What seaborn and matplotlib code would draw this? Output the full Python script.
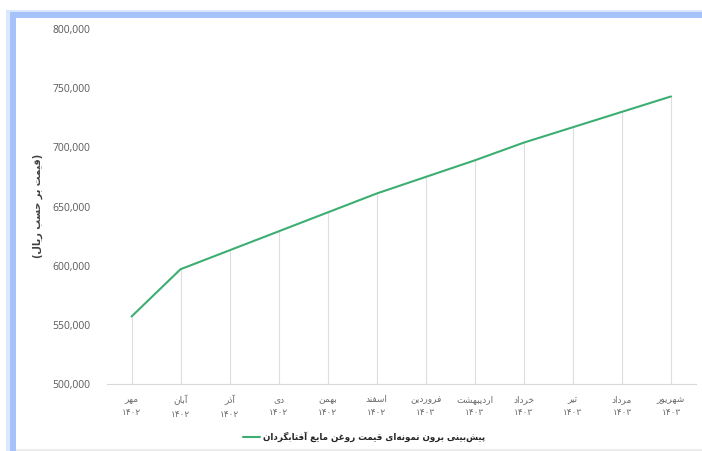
import matplotlib
matplotlib.use("Agg")
import matplotlib.pyplot as plt
from matplotlib.patches import Rectangle
from matplotlib.lines import Line2D
from matplotlib.ticker import FuncFormatter
import seaborn as sns
import pandas as pd

# ---------------- data ----------------
months = ["مهر", "آبان", "آذر", "دی", "بهمن", "اسفند",
          "فروردین", "اردیبهشت", "خرداد", "تیر", "مرداد", "شهریور"]
years = ["۱۴۰۲", "۱۴۰۲", "۱۴۰۲", "۱۴۰۲", "۱۴۰۲", "۱۴۰۲",
         "۱۴۰۳", "۱۴۰۳", "۱۴۰۳", "۱۴۰۳", "۱۴۰۳", "۱۴۰۳"]
prices = [557000, 597000, 613000, 629000, 645000, 661000,
          675000, 689000, 704000, 717000, 730000, 743000]
y_ticks = [500000, 550000, 600000, 650000, 700000, 750000, 800000]
series_name = "پیش‌بینی برون نمونه‌ای قیمت روغن مایع آفتابگردان"
y_title = "(قیمت بر حسب ریال)"

# ------------- minimal Persian shaping (presentation forms) -------------
FORMS = {
    'ا': ('\uFE8D', '\uFE8E', None, None),
    'آ': ('\uFE81', '\uFE82', None, None),
    'ب': ('\uFE8F', '\uFE90', '\uFE91', '\uFE92'),
    'پ': ('\uFB56', '\uFB57', '\uFB58', '\uFB59'),
    'ت': ('\uFE95', '\uFE96', '\uFE97', '\uFE98'),
    'ث': ('\uFE99', '\uFE9A', '\uFE9B', '\uFE9C'),
    'ج': ('\uFE9D', '\uFE9E', '\uFE9F', '\uFEA0'),
    'چ': ('\uFB7A', '\uFB7B', '\uFB7C', '\uFB7D'),
    'ح': ('\uFEA1', '\uFEA2', '\uFEA3', '\uFEA4'),
    'خ': ('\uFEA5', '\uFEA6', '\uFEA7', '\uFEA8'),
    'د': ('\uFEA9', '\uFEAA', None, None),
    'ذ': ('\uFEAB', '\uFEAC', None, None),
    'ر': ('\uFEAD', '\uFEAE', None, None),
    'ز': ('\uFEAF', '\uFEB0', None, None),
    'ژ': ('\uFB8A', '\uFB8B', None, None),
    'س': ('\uFEB1', '\uFEB2', '\uFEB3', '\uFEB4'),
    'ش': ('\uFEB5', '\uFEB6', '\uFEB7', '\uFEB8'),
    'ص': ('\uFEB9', '\uFEBA', '\uFEBB', '\uFEBC'),
    'ض': ('\uFEBD', '\uFEBE', '\uFEBF', '\uFEC0'),
    'ط': ('\uFEC1', '\uFEC2', '\uFEC3', '\uFEC4'),
    'ظ': ('\uFEC5', '\uFEC6', '\uFEC7', '\uFEC8'),
    'ع': ('\uFEC9', '\uFECA', '\uFECB', '\uFECC'),
    'غ': ('\uFECD', '\uFECE', '\uFECF', '\uFED0'),
    'ف': ('\uFED1', '\uFED2', '\uFED3', '\uFED4'),
    'ق': ('\uFED5', '\uFED6', '\uFED7', '\uFED8'),
    'ک': ('\uFB8E', '\uFB8F', '\uFB90', '\uFB91'),
    'گ': ('\uFB92', '\uFB93', '\uFB94', '\uFB95'),
    'ل': ('\uFEDD', '\uFEDE', '\uFEDF', '\uFEE0'),
    'م': ('\uFEE1', '\uFEE2', '\uFEE3', '\uFEE4'),
    'ن': ('\uFEE5', '\uFEE6', '\uFEE7', '\uFEE8'),
    'و': ('\uFEED', '\uFEEE', None, None),
    'ه': ('\uFEE9', '\uFEEA', '\uFEEB', '\uFEEC'),
    'ی': ('\uFBFC', '\uFBFD', '\uFBFE', '\uFBFF'),
    'ي': ('\uFEF1', '\uFEF2', '\uFEF3', '\uFEF4'),
}


def shape(text):
    chars = list(text)
    out = []
    for i, c in enumerate(chars):
        if c not in FORMS:
            if c != '\u200c':
                out.append(c)
            continue
        prev = chars[i - 1] if i > 0 else None
        nxt = chars[i + 1] if i + 1 < len(chars) else None
        jp = prev in FORMS and FORMS[prev][2] is not None
        jn = nxt in FORMS and FORMS[c][2] is not None
        iso, fin, ini, med = FORMS[c]
        if jp and jn:
            g = med
        elif jp:
            g = fin
        elif jn:
            g = ini
        else:
            g = iso
        out.append(g)
    s = ''.join(out)[::-1]
    return s.translate(str.maketrans('()', ')('))


# ---------------- plot ----------------
sns.set_theme(style="white")
plt.rcParams['font.family'] = ['Open Sans', 'DejaVu Sans']

W, H = 702, 451
fig = plt.figure(figsize=(W / 100, H / 100), dpi=100)
fig.patch.set_facecolor('white')

# frame decoration (blue border on left and top)
fig.patches.append(Rectangle((6 / W, 0), 4 / W, 1 - 10 / H, transform=fig.transFigure,
                             facecolor='#dbe7fd', edgecolor='none', zorder=0))
fig.patches.append(Rectangle((10 / W, 0), 6 / W, 1 - 12 / H, transform=fig.transFigure,
                             facecolor='#a6c2fa', edgecolor='none', zorder=1))
fig.patches.append(Rectangle((6 / W, 1 - 13 / H), 1, 3 / H, transform=fig.transFigure,
                             facecolor='#dbe7fd', edgecolor='none', zorder=0))
fig.patches.append(Rectangle((10 / W, 1 - 18 / H), 1, 6 / H, transform=fig.transFigure,
                             facecolor='#a6c2fa', edgecolor='none', zorder=1))
fig.patches.append(Rectangle((16 / W, 0), 1, 2 / H, transform=fig.transFigure,
                             facecolor='#ececec', edgecolor='none', zorder=1))

ax = fig.add_axes([107 / W, 1 - 384 / H, (695.5 - 107) / W, (384 - 29) / H])
ax.set_facecolor('none')

df = pd.DataFrame({"idx": list(range(len(months))), "price": prices})
line_color = '#3dae72'

# drop lines from axis to each point
ax.vlines(df["idx"], y_ticks[0], df["price"], colors='#dedede', linewidth=0.8, zorder=1)
sns.lineplot(data=df, x="idx", y="price", ax=ax, color=line_color, linewidth=1.5,
             zorder=3, legend=False)

ax.set_xlim(-0.5, len(months) - 0.5)
ax.set_ylim(y_ticks[0], y_ticks[-1])
ax.set_yticks(y_ticks)
ax.yaxis.set_major_formatter(FuncFormatter(lambda v, p: f"{int(v):,}"))
ax.set_xticks(df["idx"])
ax.set_xticklabels([f"{shape(m)}\n{y}" for m, y in zip(months, years)],
                   fontsize=6.5, color='#6a6a6a', linespacing=1.6)
ax.tick_params(axis='y', labelsize=7.5, labelcolor='#595959', length=0, pad=12)
ax.tick_params(axis='x', length=0, pad=8)
for lbl in ax.get_yticklabels():
    lbl.set_family(['Open Sans', 'DejaVu Sans'])

for s in ['top', 'right', 'left']:
    ax.spines[s].set_visible(False)
ax.spines['bottom'].set_color('#d9d9d9')
ax.spines['bottom'].set_linewidth(0.8)
ax.grid(False)
ax.set_xlabel("")
ax.set_ylabel("")

fig.text(38 / W, 1 - 206 / H, shape(y_title), rotation=90, ha='center', va='center',
         fontsize=7, color='#404040', fontweight='bold', family=['DejaVu Sans'])

handle = Line2D([0], [0], color=line_color, linewidth=1.5)
fig.legend([handle], [shape(series_name)], loc='center', bbox_to_anchor=(364 / W, 1 - 437 / H),
           frameon=False, markerfirst=True, handlelength=2.0, handletextpad=0.3,
           prop={'size': 6.3, 'weight': 'bold', 'family': ['DejaVu Sans']},
           labelcolor='#262626')

fig.savefig("out.png", dpi=100, facecolor='white')
